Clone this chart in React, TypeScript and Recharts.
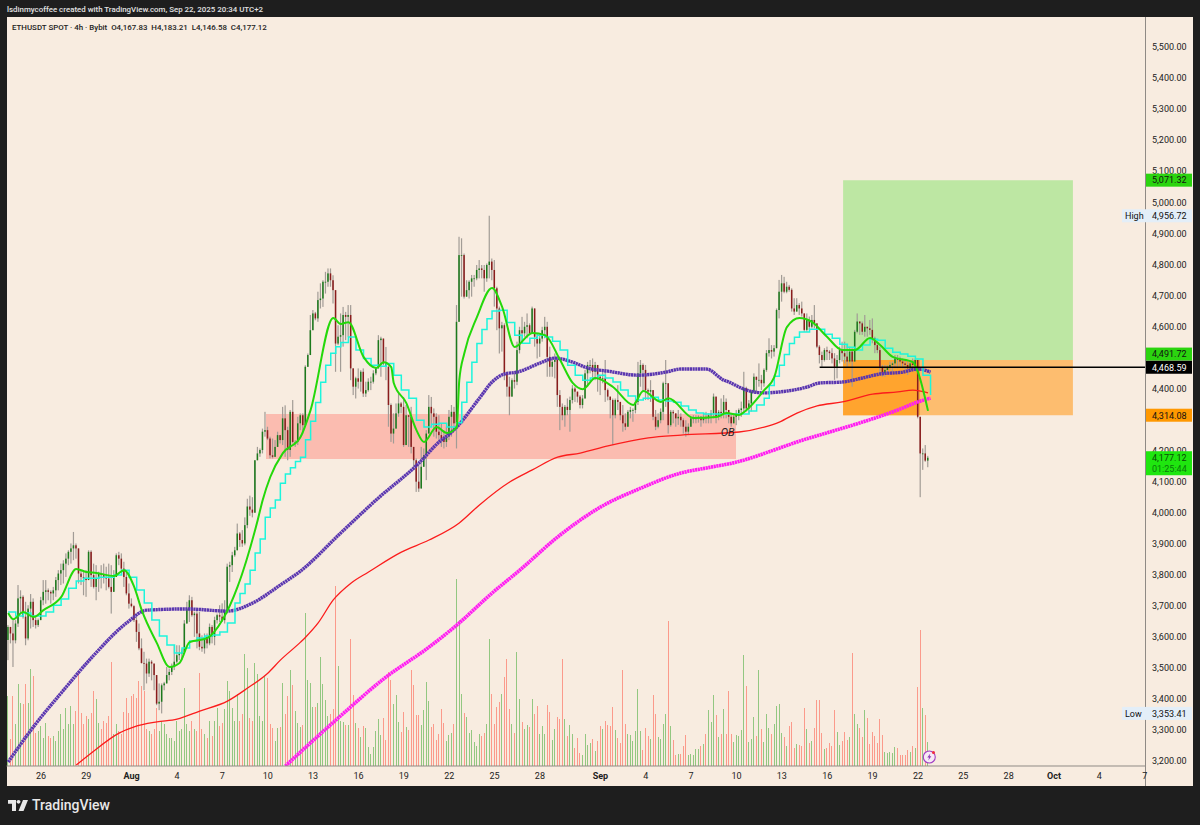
import { Bar, ComposedChart, Line, ReferenceArea, ReferenceDot, ReferenceLine, XAxis, YAxis } from "recharts";

// ETHUSDT 4h candles, oldest first
const closes = [
  3632,3611,3589,3643,3724,3729,3665,3595,3691,3713,
  3654,3638,3654,3718,3745,3750,3745,3740,3750,3783,
  3804,3815,3836,3852,3874,3885,3895,3885,3804,3793,
  3788,3783,3874,3799,3761,3788,3804,3799,3793,3788,
  3761,3745,3793,3863,3852,3820,3793,3740,3707,3699,
  3654,3616,3563,3516,3514,3482,3520,3514,3477,3385,
  3391,3444,3450,3477,3487,3503,3520,3541,3546,3552,
  3643,3691,3718,3670,3675,3611,3568,3563,3600,3579,
  3632,3600,3654,3670,3665,3654,3686,3826,3831,3863,
  3879,3933,3912,3901,3960,4020,4010,4000,4169,4191,
  4202,4261,4266,4239,4185,4180,4212,4250,4234,4304,
  4266,4202,4325,4228,4228,4288,4314,4282,4470,4508,
  4588,4642,4626,4685,4690,4744,4744,4771,4749,4717,
  4545,4567,4572,4637,4631,4637,4465,4406,4433,4422,
  4454,4384,4395,4422,4422,4449,4465,4556,4561,4481,
  4470,4347,4255,4271,4320,4352,4341,4218,4314,4309,
  4212,4169,4100,4078,4148,4185,4255,4341,4320,4309,
  4261,4250,4239,4228,4245,4309,4325,4288,4615,4830,
  4830,4696,4717,4744,4755,4755,4782,4787,4782,4755,
  4798,4809,4782,4723,4658,4594,4604,4449,4406,4374,
  4427,4422,4524,4588,4578,4599,4604,4578,4658,4567,
  4545,4561,4588,4599,4502,4470,4486,4492,4379,4341,
  4314,4341,4331,4363,4400,4390,4374,4347,4368,4449,
  4476,4476,4454,4476,4438,4433,4433,4395,4374,4363,
  4314,4363,4357,4314,4288,4277,4325,4331,4331,4357,
  4449,4476,4460,4395,4390,4395,4309,4277,4298,4325,
  4417,4417,4282,4325,4320,4304,4309,4298,4277,4261,
  4277,4304,4304,4304,4309,4298,4309,4304,4314,4320,
  4374,4309,4325,4320,4357,4331,4309,4288,4309,4320,
  4331,4336,4401,4336,4352,4390,4438,4428,4428,4417,
  4460,4514,4524,4519,4530,4653,4712,4739,4712,4728,
  4718,4658,4648,4669,4658,4642,4589,4621,4599,4621,
  4610,4535,4508,4492,4524,4519,4514,4497,4470,4492,
  4524,4514,4503,4487,4519,4487,4583,4616,4610,4583,
  4599,4594,4589,4562,4540,4524,4470,4449,4460,4470,
  4476,4481,4497,4492,4487,4481,4476,4465,4481,4476,
  4492,4309,4191,4191,4167.83,4177.12,
];

const highs = [
  3638,3627,3654,3654,3767,3750,3734,3713,3702,3738,
  3724,3665,3659,3729,3783,3783,3756,3750,3761,3793,
  3815,3836,3847,3869,3879,3901,3938,3901,3881,3815,
  3815,3815,3879,3879,3836,3831,3810,3831,3836,3826,
  3836,3831,3815,3869,3874,3869,3842,3815,3772,3724,
  3702,3665,3643,3595,3552,3530,3530,3525,3514,3460,
  3450,3450,3455,3503,3498,3514,3573,3573,3573,3562,
  3654,3713,3734,3729,3681,3686,3681,3605,3611,3611,
  3643,3638,3665,3675,3702,3708,3718,3836,3842,3874,
  3890,3965,3938,3944,3985,4045,4055,4050,4169,4212,
  4207,4271,4325,4277,4245,4239,4234,4261,4250,4341,
  4346,4277,4331,4363,4234,4309,4320,4320,4475,4513,
  4637,4653,4647,4712,4739,4749,4776,4787,4787,4765,
  4717,4604,4642,4663,4647,4669,4669,4459,4438,4465,
  4459,4465,4422,4433,4438,4459,4470,4572,4567,4561,
  4534,4475,4352,4320,4352,4384,4357,4373,4347,4314,
  4341,4212,4175,4153,4212,4207,4266,4379,4373,4336,
  4320,4314,4288,4266,4277,4331,4347,4341,4669,4889,
  4884,4835,4749,4749,4766,4766,4798,4814,4798,4798,
  4803,4956.72,4819,4814,4728,4664,4615,4610,4454,4438,
  4433,4449,4551,4599,4631,4615,4642,4610,4664,4658,
  4578,4572,4599,4631,4615,4535,4502,4513,4502,4395,
  4352,4347,4368,4374,4411,4406,4390,4379,4379,4460,
  4486,4492,4497,4486,4476,4443,4460,4492,4400,4368,
  4368,4368,4411,4357,4347,4320,4331,4341,4336,4363,
  4486,4492,4481,4476,4400,4427,4395,4331,4320,4336,
  4422,4492,4417,4331,4331,4320,4331,4320,4304,4298,
  4288,4309,4314,4314,4314,4311,4320,4325,4320,4331,
  4384,4374,4331,4368,4379,4368,4331,4320,4320,4331,
  4336,4358,4454,4406,4363,4395,4449,4438,4481,4444,
  4465,4524,4562,4540,4540,4658,4750,4766,4760,4744,
  4734,4723,4691,4691,4675,4680,4642,4642,4632,4637,
  4669,4610,4540,4519,4530,4535,4524,4530,4514,4508,
  4535,4551,4551,4540,4535,4530,4589,4642,4616,4616,
  4637,4599,4621,4626,4567,4551,4535,4476,4476,4476,
  4487,4487,4508,4508,4503,4497,4492,4487,4492,4497,
  4497,4492,4309,4207,4218,4183.21,
];

const lows = [
  3525,3579,3503,3579,3632,3675,3659,3573,3589,3627,
  3632,3627,3632,3654,3702,3707,3718,3707,3718,3729,
  3750,3767,3772,3793,3831,3836,3847,3852,3772,3767,
  3734,3729,3793,3761,3756,3718,3745,3756,3772,3750,
  3756,3675,3777,3793,3831,3815,3761,3734,3691,3695,
  3648,3584,3557,3514,3428,3450,3471,3460,3428,3380,
  3364,3353.41,3428,3450,3460,3477,3493,3514,3525,3525,
  3546,3643,3648,3665,3600,3563,3557,3552,3546,3563,
  3573,3579,3573,3643,3648,3648,3643,3675,3777,3809,
  3858,3879,3890,3890,3895,3950,3990,3985,4000,4169,
  4180,4191,4245,4234,4175,4175,4180,4212,4223,4218,
  4180,4169,4180,4223,4212,4218,4266,4255,4282,4470,
  4513,4588,4620,4615,4658,4663,4706,4728,4728,4674,
  4454,4540,4454,4535,4556,4567,4427,4379,4368,4400,
  4390,4373,4373,4390,4395,4416,4443,4475,4438,4475,
  4427,4277,4228,4223,4277,4309,4320,4212,4223,4212,
  4191,4137,4067,4067,4137,4148,4105,4255,4277,4245,
  4239,4228,4212,4207,4212,4234,4245,4271,4207,4615,
  4696,4690,4696,4690,4696,4728,4749,4755,4755,4712,
  4744,4755,4749,4664,4588,4513,4519,4427,4374,4314,
  4406,4400,4411,4513,4551,4567,4562,4572,4578,4535,
  4497,4502,4551,4562,4438,4438,4438,4433,4341,4266,
  4298,4277,4314,4261,4352,4357,4355,4336,4336,4368,
  4406,4449,4427,4427,4390,4379,4417,4357,4362,4304,
  4218,4304,4331,4298,4261,4266,4277,4304,4293,4320,
  4347,4406,4390,4363,4363,4357,4298,4266,4272,4288,
  4298,4341,4255,4277,4288,4277,4283,4277,4255,4245,
  4250,4277,4288,4288,4290,4277,4288,4288,4288,4288,
  4304,4288,4298,4304,4304,4304,4288,4277,4288,4282,
  4298,4309,4326,4326,4320,4326,4385,4385,4406,4395,
  4406,4454,4503,4497,4503,4530,4626,4680,4707,4707,
  4712,4648,4637,4648,4637,4632,4583,4583,4589,4594,
  4594,4530,4481,4470,4487,4492,4492,4481,4428,4433,
  4481,4487,4481,4470,4481,4406,4487,4578,4573,4573,
  4567,4567,4573,4546,4514,4514,4444,4438,4438,4449,
  4460,4455,4465,4465,4470,4465,4460,4444,4460,4460,
  4455,4304,4050,4138,4164,4146.58,
];

// volume, in the height units of the hidden volume axis
const volumes = [
  70,27,70,42,82,63,62,82,63,97,
  90,33,35,40,28,43,30,28,30,25,
  35,52,37,58,42,60,42,55,95,53,
  42,50,47,53,75,67,43,37,45,43,
  50,104,32,42,35,32,54,68,53,70,
  72,68,85,80,75,37,35,32,37,58,
  35,45,42,32,28,28,25,45,35,37,
  78,42,35,45,37,35,93,37,32,28,
  45,30,45,58,40,43,57,85,75,58,
  45,72,45,52,112,98,48,45,103,92,
  50,45,90,88,42,38,25,38,
  39,83,52,70,96,81,55,43,39,41,153,86,83,59,59,63,109,82,66,50,52,57,180,100,45,44,41,41,127,71,
  43,38,29,40,38,19,12,19,35,47,31,48,26,94,86,62,71,44,34,54,39,36,96,81,51,51,41,56,84,65,
  39,42,26,32,57,43,25,31,33,42,187,146,72,53,49,33,36,24,20,32,30,33,42,127,72,42,59,64,72,89,
  107,57,42,33,114,67,44,37,41,39,67,52,60,32,40,32,61,54,26,37,49,47,107,47,30,41,32,18,28,13,
  11,32,21,23,27,15,25,40,37,45,41,
  40,59,36,28,23,96,42,32,31,25,35,77,35,16,38,30,27,71,52,29,27,42,52,145,40,26,11,12,12,20,
  31,11,12,11,17,17,20,22,32,56,44,71,51,29,32,57,32,75,32,24,31,30,36,111,80,24,27,49,30,96,
  37,24,52,38,32,42,60,62,33,29,20,40,44,18,22,21,20,58,37,23,25,38,66,66,33,17,18,23,20,56,
  34,21,25,34,26,29,113,52,42,38,29,56,48,22,34,30,23,47,31,14,13,14,13,19,18,11,11,11,16,14,
  20,18,79,136,58,51,24,
];

const greenIdx = [0,2,6,10,14,21,27,31,35,42,46,50,53,59,64,68,72,79,85,91,99,101,104,109,116,120,129,132,135,141,146,149,152,153,158,162,165,170,174,178,179,181,186,192,196,201,208,213,219,224,228,233,240,248,252,259,262,272,281,285,290,293,300,304,309,314,319,325,331,336,342,346,351,359,361,365];
const greenVals = [3677,3657,3680,3664,3686,3728,3819,3809,3806,3796,3815,3761,3686,3580,3503,3516,3583,3596,3654,3761,3976,4041,4115,4192,4244,4331,4627,4608,4614,4502,4466,4485,4469,4418,4353,4266,4228,4276,4257,4276,4427,4514,4630,4724,4663,4534,4579,4572,4492,4418,4398,4434,4405,4347,4392,4357,4369,4305,4308,4321,4315,4331,4395,4437,4598,4627,4614,4566,4524,4524,4563,4540,4502,4485,4453,4328];

// cyan is a stepped line: every third candle, every second one on the steep legs
const cyanIdx = [
  0,3,6,9,12,15,18,21,24,27,30,33,36,39,42,45,48,51,54,57,60,63,66,69,72,75,78,81,84,87,
  90,92,94,96,98,100,102,104,106,108,110,112,114,116,118,120,122,124,126,128,130,132,135,
  138,141,144,147,150,153,156,159,162,165,168,171,174,177,
  178,180,182,184,186,188,190,192,195,
  198,201,204,207,210,213,216,219,222,225,228,231,234,237,240,243,246,249,252,255,258,261,264,267,270,273,276,279,282,285,288,291,294,297,
  300,302,304,306,308,310,312,314,318,
  321,324,327,330,333,336,339,342,345,348,351,354,357,360,363,366,
];
const cyanVals = [
  3680,3667,3677,3667,3667,3680,3702,3722,3757,3780,3789,3789,3792,3792,3799,3815,3792,3751,3709,3654,3603,3574,3548,3564,3587,3596,3603,3606,3616,3645,
  3709,3740,3770,3815,3870,3915,3985,4015,4041,4095,4125,4145,4165,4179,4235,4295,4355,4420,4475,4514,4535,4548,4566,
  4524,4497,4475,4472,4481,4443,4395,4369,4298,4276,4285,4288,4276,4276,
  4290,4356,4420,4485,4545,4590,4625,4650,4652,
  4613,4572,4546,4562,4572,4566,4552,4524,4475,4443,4427,4434,4443,4434,4421,4395,4376,4363,4369,4372,4363,4360,4356,4344,4331,4321,4318,4318,4318,4318,4318,4318,4328,4347,
  4369,4410,4440,4475,4510,4545,4565,4582,4591,
  4591,4575,4562,4543,4533,4524,4540,4559,4556,4530,4517,4511,4504,4495,4443,4379,
];

const blueIdx = [0,10,21,34,47,55,71,87,97,108,116,132,146,163,171,176,178,187,192,197,202,211,217,224,230,238,250,261,267,277,284,286,290,293,300,306,317,322,331,339,346,355,361,366];
const blueVals = [3197,3310,3419,3541,3645,3686,3690,3683,3709,3767,3812,3935,4041,4160,4228,4260,4276,4369,4421,4447,4453,4482,4498,4485,4466,4456,4443,4453,4463,4463,4427,4421,4405,4395,4386,4389,4405,4418,4421,4434,4447,4453,4463,4453];

const redIdx = [27,33,44,50,59,67,76,87,95,103,108,116,118,123,129,136,143,156,167,179,187,199,208,218,227,238,254,267,290,300,306,313,321,331,343,353,359,365];
const redVals = [3187,3226,3290,3310,3326,3335,3361,3393,3435,3483,3525,3583,3599,3645,3719,3773,3809,3873,3912,3967,4025,4099,4138,4179,4192,4215,4241,4250,4260,4276,4292,4321,4344,4357,4382,4389,4395,4386];

const magentaIdx = [110,131,150,166,178,192,203,219,235,251,267,277,289,306,313,326,339,353,361,366];
const magentaVals = [3184,3339,3471,3561,3638,3741,3815,3928,4018,4079,4128,4144,4163,4208,4228,4260,4292,4331,4357,4369];

const dayTicks = [13,31,49,67,85,103,121,139,157,175,193,211,235,253,271,289,307,325,343,361,379,397,415,433,451];
const dayLabels = ["26","29","Aug","4","7","10","13","16","19","22","25","28","Sep","4","7","10","13","16","19","22","25","28","Oct","4","7"];
// 4,300 and 4,500 sit under the price tags in the reference
const priceTicks = [3200,3300,3400,3500,3600,3700,3800,3900,4000,4100,4200,4400,4600,4700,4800,4900,5000,5100,5200,5300,5400,5500];

const rows = closes.map((close, i) => {
  const open = i === 0 ? 3590 : closes[i - 1];
  return { i, open, close, high: Math.max(highs[i], open, close), low: Math.min(lows[i], open, close), volume: volumes[i] ?? 0 };
});

const toPoints = (idx: number[], vals: number[]) => idx.map((i, n) => ({ i, v: vals[n] }));

const BG = "#f8ece0";
const FRAME = "#1e1e1e";
const AXIS_FONT = "Roboto, sans-serif";
const X_MIN = -0.67;
const X_MAX = 451.1;
const Y_DOMAIN = [3184, 5597];

function VolumeBar({ x, y, height, width, payload }: any) {
  const up = payload.close >= payload.open;
  return <rect x={x + width / 2 - 0.5} y={y} width={1} height={height} fill={up ? "#93c781" : "#fb9a8b"} shapeRendering="crispEdges" />;
}

function Candle({ x, y, height, width, payload }: any) {
  const { open, close, high, low } = payload;
  const perUnit = high === low ? 0 : height / (high - low);
  const cx = x + width / 2;
  const top = y + (high - Math.max(open, close)) * perUnit;
  const bodyH = Math.max(Math.abs(open - close) * perUnit, 0.8);
  const up = close >= open;
  return (
    <g>
      <rect x={cx - 0.6} y={y} width={1.2} height={height} fill="#a29c96" />
      <rect x={cx - 0.75} y={top} width={1.5} height={bodyH} fill={up ? "#1c7a1c" : "#8a1c1c"} />
    </g>
  );
}

function PriceTag({ cx, cy, label, bg, color = "#111", dy = 0, name, second, secondColor }: any) {
  const h = second ? 24 : 13;
  const top = cy + dy - 6.5;
  const left = cx + 1;
  return (
    <g fontFamily={AXIS_FONT} fontSize={9}>
      {name && <rect x={left - 24} y={top} width={24} height={h} fill={bg} />}
      {name && <text x={left - 21} y={top + 9.8} fill={color}>{name}</text>}
      <rect x={left} y={top} width={46} height={h} fill={bg} />
      <text x={left + 6} y={top + 9.8} fill={color}>{label}</text>
      {second && <text x={left + 6} y={top + 20.8} fill={secondColor}>{second}</text>}
    </g>
  );
}

function ObLabel({ cx, cy }: any) {
  return <text x={cx} y={cy} textAnchor="middle" fontFamily="Roboto, sans-serif" fontStyle="italic" fontSize={11} fill="#222">OB</text>;
}

function Bolt({ cx, cy }: any) {
  return (
    <g>
      <circle cx={cx} cy={cy} r={6} fill="#f7eaf5" stroke="#a13fc4" strokeWidth={1.1} />
      <path d={`M${cx + 1},${cy - 3.5} L${cx - 2},${cy + 0.5} L${cx - 0.2},${cy + 0.5} L${cx - 1},${cy + 3.5} L${cx + 2},${cy - 0.7} L${cx + 0.3},${cy - 0.7} Z`} fill="#8e35b5" />
      <circle cx={cx + 4.2} cy={cy - 4.6} r={1.5} fill="#f22c3d" />
    </g>
  );
}

function TimeTick({ x, y, payload }: any) {
  const label = dayLabels[dayTicks.indexOf(payload.value)];
  const month = label === "Aug" || label === "Sep" || label === "Oct";
  return (
    <text x={x} y={y + 5} textAnchor="middle" fontFamily={AXIS_FONT} fontSize={9} fontWeight={month ? 700 : 400} fill="#222">
      {label}
    </text>
  );
}

export default function App() {
  return (
    <div style={{ position: "fixed", left: 0, top: 0, width: 1200, height: 825, background: FRAME, overflow: "hidden" }}>
      <div style={{ position: "absolute", left: 6.5, top: 17, width: 1186.5, height: 769, background: BG }} />
      <div style={{ position: "absolute", left: 1144.5, top: 17, width: 1, height: 769, background: "#8f8a85" }} />
      <div style={{ position: "absolute", left: 7, top: 4, color: "#e2e2e2", fontFamily: "Roboto, sans-serif", fontSize: 7.9, fontWeight: 500, lineHeight: "11px", whiteSpace: "nowrap" }}>
        lsdinmycoffee created with TradingView.com, Sep 22, 2025 20:34 UTC+2
      </div>
      <div style={{ position: "absolute", left: 12, top: 22, color: "#222", fontFamily: "Roboto, sans-serif", fontSize: 7.9, fontWeight: 500, lineHeight: "11px", whiteSpace: "pre" }}>
        {"ETHUSDT SPOT · 4h · Bybit  O4,167.83  H4,183.21  L4,146.58  C4,177.12"}
      </div>
      <svg style={{ position: "absolute", left: 8, top: 800 }} width={20} height={11} viewBox="0 0 20 12" preserveAspectRatio="none">
        <path d="M0,0 H8 V12 H4 V4 H0 Z" fill="#e8e8e8" />
        <circle cx={10.5} cy={2} r={2} fill="#e8e8e8" />
        <path d="M15,0 H20 L15.5,12 H10.5 Z" fill="#e8e8e8" />
      </svg>
      <div style={{ position: "absolute", left: 32, top: 797, color: "#e8e8e8", fontFamily: "Roboto, sans-serif", fontSize: 14, fontWeight: 500, lineHeight: "17px" }}>
        TradingView
      </div>
      <div style={{ position: "absolute", left: 0, top: 0 }}>
        <ComposedChart width={1200} height={825} data={rows} margin={{ top: 17, right: 8, bottom: 39, left: 6.5 }}>
          <XAxis
            dataKey="i"
            type="number"
            domain={[X_MIN, X_MAX]}
            allowDataOverflow
            ticks={dayTicks}
            interval={0}
            height={20}
            tickLine={false}
            stroke="#8f8a85"
            tick={<TimeTick />}
          />
          {/* own x axis so the volume bars are not grouped beside the candles */}
          <XAxis xAxisId="volX" hide dataKey="i" type="number" domain={[X_MIN, X_MAX]} allowDataOverflow />
          <YAxis
            yAxisId="price"
            orientation="right"
            width={47}
            domain={Y_DOMAIN}
            allowDataOverflow
            ticks={priceTicks}
            interval={0}
            tickLine={false}
            tickSize={0}
            axisLine={false}
            tickMargin={7}
            tickFormatter={(v: number) => v.toLocaleString("en-US", { minimumFractionDigits: 2 })}
            tick={{ fontSize: 9, fontFamily: AXIS_FONT, fill: "#222" }}
          />
          <YAxis yAxisId="vol" hide domain={[0, 749]} />

          <ReferenceArea yAxisId="price" x1={102.3} x2={288.8} y1={4173} y2={4318} fill="#fbbcb0" fillOpacity={1} stroke="none" />
          <ReferenceArea yAxisId="price" x1={331.3} x2={422.5} y1={4491.72} y2={5071.32} fill="#bde7a3" fillOpacity={1} stroke="none" />
          <ReferenceArea yAxisId="price" x1={331.3} x2={422.5} y1={4314.08} y2={4491.72} fill="#fdbd6f" fillOpacity={1} stroke="none" />
          <ReferenceArea yAxisId="price" x1={331.3} x2={361.8} y1={4314.08} y2={4491.72} fill="#ffa42e" fillOpacity={1} stroke="none" />

          <Bar xAxisId="volX" yAxisId="vol" dataKey="volume" barSize={2} shape={<VolumeBar />} isAnimationActive={false} />
          <Bar yAxisId="price" dataKey={(r: any) => [r.low, r.high]} barSize={2} shape={<Candle />} isAnimationActive={false} />

          <Line yAxisId="price" data={toPoints(redIdx, redVals)} dataKey="v" type="monotone" stroke="#fb1c1c" strokeWidth={1.3} dot={false} isAnimationActive={false} />
          <Line yAxisId="price" data={toPoints(magentaIdx, magentaVals)} dataKey="v" type="monotone" stroke="#ff1df2" strokeWidth={3.6} strokeDasharray="2.2 0.5" dot={false} isAnimationActive={false} />
          <Line yAxisId="price" data={toPoints(blueIdx, blueVals)} dataKey="v" type="monotone" stroke="#5a36b0" strokeWidth={3.4} strokeDasharray="2.2 0.5" dot={false} isAnimationActive={false} />
          <Line yAxisId="price" data={toPoints(cyanIdx, cyanVals)} dataKey="v" type="stepAfter" stroke="#1df5dc" strokeWidth={1.5} dot={false} isAnimationActive={false} />
          <Line yAxisId="price" data={toPoints(greenIdx, greenVals)} dataKey="v" type="monotone" stroke="#24d80a" strokeWidth={2} dot={false} isAnimationActive={false} />

          <ReferenceLine yAxisId="price" segment={[{ x: 322, y: 4468.59 }, { x: X_MAX, y: 4468.59 }]} stroke="#000" strokeWidth={1.5} />
          <ReferenceDot yAxisId="price" x={285.5} y={4247} r={0} ifOverflow="visible" shape={<ObLabel />} />
          <ReferenceDot yAxisId="price" x={365.5} y={3213} r={0} ifOverflow="visible" shape={<Bolt />} />
        </ComposedChart>
      </div>
      {/* second layer with the same scales: the price tags must cover the axis labels */}
      <div style={{ position: "absolute", left: 0, top: 0 }}>
        <ComposedChart width={1200} height={825} data={rows} margin={{ top: 17, right: 55, bottom: 59, left: 6.5 }}>
          <XAxis hide dataKey="i" type="number" domain={[X_MIN, X_MAX]} allowDataOverflow />
          <YAxis yAxisId="price" hide domain={Y_DOMAIN} allowDataOverflow />
          <ReferenceDot yAxisId="price" x={X_MAX} y={5071.32} r={0} ifOverflow="visible" shape={<PriceTag label="5,071.32" bg="#2bd40f" />} />
          <ReferenceDot yAxisId="price" x={X_MAX} y={4956.72} r={0} ifOverflow="visible" shape={<PriceTag label="4,956.72" bg="#e3eef8" name="High" />} />
          <ReferenceDot yAxisId="price" x={X_MAX} y={4491.72} r={0} ifOverflow="visible" shape={<PriceTag label="4,491.72" bg="#2bd40f" dy={-6} />} />
          <ReferenceDot yAxisId="price" x={X_MAX} y={4468.59} r={0} ifOverflow="visible" shape={<PriceTag label="4,468.59" bg="#000" color="#fff" />} />
          <ReferenceDot yAxisId="price" x={X_MAX} y={4314.08} r={0} ifOverflow="visible" shape={<PriceTag label="4,314.08" bg="#ff9800" />} />
          <ReferenceDot yAxisId="price" x={X_MAX} y={4177.12} r={0} ifOverflow="visible" shape={<PriceTag label="4,177.12" second="01:25:44" secondColor="#0a7a0a" bg="#1fe60f" color="#0b4a06" />} />
          <ReferenceDot yAxisId="price" x={X_MAX} y={3353.41} r={0} ifOverflow="visible" shape={<PriceTag label="3,353.41" bg="#e3eef8" name="Low" />} />
        </ComposedChart>
      </div>
    </div>
  );
}
